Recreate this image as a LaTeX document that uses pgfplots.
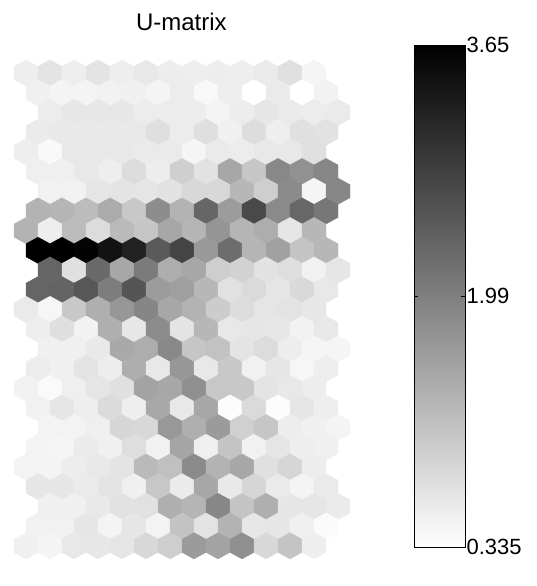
\documentclass[border=0pt]{standalone}
\usepackage{fontspec}
\setmainfont{Liberation Sans}
\usepackage{pgfplots}
\pgfplotsset{compat=1.18}
\pgfplotsset{colormap={ugray}{gray(0cm)=(1); gray(1cm)=(0)}}

% pointy-top hexagon, 18pt wide, sized to tile the U-matrix grid
\pgfdeclareplotmark{hexa}{%
  \pgfpathmoveto{\pgfqpoint{0pt}{9.86pt}}%
  \pgfpathlineto{\pgfqpoint{9pt}{4.93pt}}%
  \pgfpathlineto{\pgfqpoint{9pt}{-4.93pt}}%
  \pgfpathlineto{\pgfqpoint{0pt}{-9.86pt}}%
  \pgfpathlineto{\pgfqpoint{-9pt}{-4.93pt}}%
  \pgfpathlineto{\pgfqpoint{-9pt}{4.93pt}}%
  \pgfpathclose
  \pgfusepathqfillstroke}

\begin{document}
\begin{tikzpicture}
% hexagonal U-matrix
\begin{axis}[
  at={(10.5pt,19.8pt)}, anchor=south west,
  scale only axis, width=252pt, height=375.29pt,
  xmin=-0.5, xmax=13.5, ymin=-0.7, ymax=24.7,
  hide axis, clip=false,
  colormap name=ugray,
  point meta min=0.335, point meta max=3.65,
]
\addplot[scatter, only marks, mark=hexa, point meta=explicit,
  scatter/use mapped color={draw=mapped color, fill=mapped color},
  mark options={line width=0.2pt}] coordinates {
(0,24)[0.556] (1,24)[0.686] (2,24)[0.556] (3,24)[0.686] (4,24)[0.556] (5,24)[0.634] (6,24)[0.569] (7,24)[0.556] (8,24)[0.569] (9,24)[0.556] (10,24)[0.608] (11,24)[0.738] (12,24)[0.465]
(0.5,23)[0.53] (1.5,23)[0.478] (2.5,23)[0.478] (3.5,23)[0.504] (4.5,23)[0.53] (5.5,23)[0.478] (6.5,23)[0.582] (7.5,23)[0.426] (8.5,23)[0.556] (9.5,23)[0.335] (10.5,23)[0.608] (11.5,23)[0.335] (12.5,23)[0.504]
(1,22)[0.582] (2,22)[0.647] (3,22)[0.647] (4,22)[0.647] (5,22)[0.582] (6,22)[0.582] (7,22)[0.582] (8,22)[0.478] (9,22)[0.582] (10,22)[0.66] (11,22)[0.608] (12,22)[0.582] (13,22)[0.608]
(0.5,21)[0.595] (1.5,21)[0.621] (2.5,21)[0.621] (3.5,21)[0.621] (4.5,21)[0.621] (5.5,21)[0.751] (6.5,21)[0.582] (7.5,21)[0.751] (8.5,21)[0.53] (9.5,21)[0.777] (10.5,21)[0.556] (11.5,21)[0.738] (12.5,21)[0.712]
(0,20)[0.556] (1,20)[0.413] (2,20)[0.634] (3,20)[0.634] (4,20)[0.634] (5,20)[0.608] (6,20)[0.608] (7,20)[0.465] (8,20)[0.608] (9,20)[0.582] (10,20)[0.634] (11,20)[0.634] (12,20)[0.738]
(0.5,19)[0.543] (1.5,19)[0.543] (2.5,19)[0.634] (3.5,19)[0.556] (4.5,19)[0.79] (5.5,19)[0.569] (6.5,19)[0.959] (7.5,19)[0.712] (8.5,19)[1.466] (9.5,19)[1.076] (10.5,19)[1.869] (11.5,19)[1.752] (12.5,19)[1.882]
(1,18)[0.517] (2,18)[0.517] (3,18)[0.673] (4,18)[0.686] (5,18)[0.673] (6,18)[0.712] (7,18)[0.842] (8,18)[0.842] (9,18)[1.258] (10,18)[0.972] (11,18)[1.83] (12,18)[0.465] (13,18)[1.882]
(0.5,17)[1.31] (1.5,17)[1.284] (2.5,17)[1.206] (3.5,17)[1.414] (4.5,17)[1.05] (5.5,17)[1.804] (6.5,17)[1.31] (7.5,17)[2.311] (8.5,17)[1.609] (9.5,17)[2.688] (10.5,17)[1.843] (11.5,17)[2.298] (12.5,17)[2.09]
(0,16)[1.31] (1,16)[0.556] (2,16)[1.206] (3,16)[0.79] (4,16)[1.232] (5,16)[1.076] (6,16)[1.466] (7,16)[1.284] (8,16)[1.70] (9,16)[1.284] (10,16)[1.388] (11,16)[0.66] (12,16)[1.258]
(0.5,15)[3.65] (1.5,15)[3.637] (2.5,15)[3.585] (3.5,15)[3.39] (4.5,15)[3.195] (5.5,15)[2.467] (6.5,15)[2.753] (7.5,15)[1.648] (8.5,15)[2.22] (9.5,15)[1.284] (10.5,15)[1.544] (11.5,15)[1.102] (12.5,15)[1.258]
(1,14)[2.324] (2,14)[0.738] (3,14)[2.259] (4,14)[1.466] (5,14)[2.038] (6,14)[1.388] (7,14)[1.466] (8,14)[0.972] (9,14)[0.92] (10,14)[0.712] (11,14)[0.764] (12,14)[0.517] (13,14)[0.66]
(0.5,13)[2.324] (1.5,13)[2.337] (2.5,13)[2.506] (3.5,13)[2.012] (4.5,13)[2.532] (5.5,13)[1.609] (6.5,13)[1.57] (7.5,13)[1.258] (8.5,13)[0.725] (9.5,13)[0.816] (10.5,13)[0.673] (11.5,13)[0.829] (12.5,13)[0.634]
(0,12)[0.608] (1,12)[0.452] (2,12)[1.05] (3,12)[1.362] (4,12)[1.674] (5,12)[1.895] (6,12)[1.466] (7,12)[1.31] (8,12)[0.998] (9,12)[0.79] (10,12)[0.673] (11,12)[0.699] (12,12)[0.647]
(0.5,11)[0.556] (1.5,11)[0.751] (2.5,11)[0.504] (3.5,11)[1.362] (4.5,11)[0.647] (5.5,11)[1.817] (6.5,11)[0.686] (7.5,11)[1.258] (8.5,11)[0.634] (9.5,11)[0.66] (10.5,11)[0.647] (11.5,11)[0.504] (12.5,11)[0.634]
(1,10)[0.53] (2,10)[0.53] (3,10)[0.621] (4,10)[1.44] (5,10)[1.388] (6,10)[1.856] (7,10)[1.076] (8,10)[1.128] (9,10)[0.686] (10,10)[0.79] (11,10)[0.569] (12,10)[0.465] (13,10)[0.465]
(0.5,9)[0.582] (1.5,9)[0.53] (2.5,9)[0.699] (3.5,9)[0.569] (4.5,9)[1.375] (5.5,9)[0.634] (6.5,9)[1.674] (7.5,9)[0.634] (8.5,9)[1.05] (9.5,9)[0.517] (10.5,9)[0.66] (11.5,9)[0.452] (12.5,9)[0.556]
(0,8)[0.504] (1,8)[0.40] (2,8)[0.543] (3,8)[0.673] (4,8)[0.738] (5,8)[1.518] (6,8)[1.466] (7,8)[1.765] (8,8)[1.063] (9,8)[1.05] (10,8)[0.686] (11,8)[0.634] (12,8)[0.569]
(0.5,7)[0.517] (1.5,7)[0.66] (2.5,7)[0.556] (3.5,7)[0.803] (4.5,7)[0.556] (5.5,7)[1.453] (6.5,7)[0.634] (7.5,7)[1.466] (8.5,7)[0.374] (9.5,7)[0.816] (10.5,7)[0.374] (11.5,7)[0.66] (12.5,7)[0.556]
(1,6)[0.491] (2,6)[0.491] (3,6)[0.543] (4,6)[0.868] (5,6)[0.842] (6,6)[1.661] (7,6)[1.362] (8,6)[1.622] (9,6)[0.946] (10,6)[1.076] (11,6)[0.569] (12,6)[0.53] (13,6)[0.478]
(0.5,5)[0.478] (1.5,5)[0.465] (2.5,5)[0.595] (3.5,5)[0.53] (4.5,5)[0.764] (5.5,5)[0.517] (6.5,5)[1.492] (7.5,5)[0.543] (8.5,5)[1.102] (9.5,5)[0.517] (10.5,5)[0.673] (11.5,5)[0.556] (12.5,5)[0.53]
(0,4)[0.491] (1,4)[0.478] (2,4)[0.569] (3,4)[0.634] (4,4)[0.686] (5,4)[1.232] (6,4)[1.154] (7,4)[1.83] (8,4)[1.31] (9,4)[1.466] (10,4)[0.738] (11,4)[0.868] (12,4)[0.569]
(0.5,3)[0.66] (1.5,3)[0.66] (2.5,3)[0.595] (3.5,3)[0.686] (4.5,3)[0.53] (5.5,3)[1.063] (6.5,3)[0.595] (7.5,3)[1.466] (8.5,3)[0.621] (9.5,3)[0.868] (10.5,3)[0.608] (11.5,3)[0.478] (12.5,3)[0.608]
(1,2)[0.53] (2,2)[0.53] (3,2)[0.621] (4,2)[0.725] (5,2)[0.725] (6,2)[1.362] (7,2)[1.284] (8,2)[1.882] (9,2)[1.102] (10,2)[1.362] (11,2)[0.66] (12,2)[0.66] (13,2)[0.595]
(0.5,1)[0.517] (1.5,1)[0.517] (2.5,1)[0.66] (3.5,1)[0.478] (4.5,1)[0.66] (5.5,1)[0.491] (6.5,1)[1.115] (7.5,1)[0.699] (8.5,1)[1.31] (9.5,1)[0.647] (10.5,1)[0.66] (11.5,1)[0.53] (12.5,1)[0.387]
(0,0)[0.53] (1,0)[0.478] (2,0)[0.634] (3,0)[0.647] (4,0)[0.673] (5,0)[0.842] (6,0)[0.972] (7,0)[1.622] (8,0)[1.518] (9,0)[1.778] (10,0)[0.842] (11,0)[1.102] (12,0)[0.556]
};
\end{axis}
% colour scale
\begin{axis}[
  at={(310.5pt,29.25pt)}, anchor=south west,
  scale only axis, width=38.25pt, height=376.5pt,
  xmin=0, xmax=1, ymin=0.335, ymax=3.65,
  xtick=\empty,
  ytick={0.335,1.99,3.65},
  yticklabels={0.335,1.99,3.65},
  ytick pos=both, yticklabel pos=right,
  tick align=inside, major tick length=3pt,
  tick style={black, line width=0.5pt},
  axis line style={black, line width=0.6pt},
  yticklabel style={font=\fontsize{16.5}{20}\selectfont, inner sep=1pt},
  /pgf/number format/assume math mode=true,
  colormap name=ugray,
  axis on top,
]
\addplot[surf, shader=interp, point meta=y, point meta min=0.335, point meta max=3.65] coordinates {
(0,0.335) (1,0.335)

(0,3.65) (1,3.65)
};
\end{axis}
\node[anchor=base, font=\fontsize{18}{21}\selectfont] at (136pt,416.6pt) {U-matrix};
\pgfresetboundingbox
\path[use as bounding box] (0,0) rectangle (402pt,439.5pt);
\end{tikzpicture}
\end{document}
